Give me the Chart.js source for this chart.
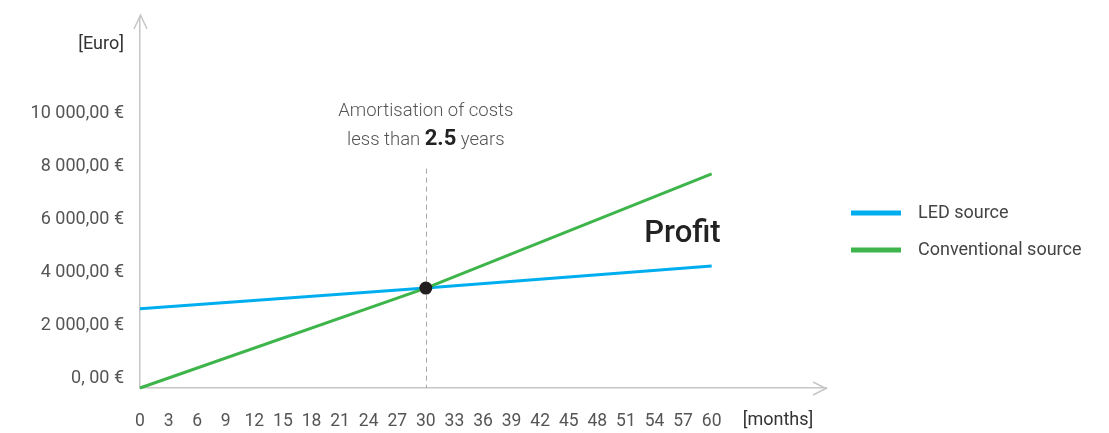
<!DOCTYPE html>
<html>
<head>
<meta charset="utf-8">
<script src="https://cdn.jsdelivr.net/npm/chart.js@4/dist/chart.umd.min.js"></script>
<style>
  html, body { margin: 0; padding: 0; background: #ffffff; }
  #wrap { width: 1109px; height: 433px; }
</style>
</head>
<body>
<div id="wrap"><canvas id="c" width="1109" height="433"></canvas></div>
<script>
// Cumulative cost (EUR) over time (months) for both light sources
const months = [0, 30, 60];
const ledCost = [3000, 3780, 4620];
const conventionalCost = [0, 3780, 8100];
const seriesNames = ['LED source', 'Conventional source'];

// Break-even point
const breakEvenMonth = 30;
const breakEvenCost = 3780;

// Axis ticks
const monthTicks = [0, 3, 6, 9, 12, 15, 18, 21, 24, 27, 30, 33, 36, 39, 42, 45, 48, 51, 54, 57, 60];
const euroTicks = [0, 2000, 4000, 6000, 8000, 10000];
const euroTickLabels = ['0, 00 €', '2 000,00 €', '4 000,00 €', '6 000,00 €', '8 000,00 €', '10 000,00 €'];

const BLUE = '#00aeef';
const GREEN = '#3db54a';
const AXIS = '#c6c6c6';
const FONT = 'Roboto, "Noto Sans", sans-serif';

function points(xs, ys) { return xs.map((x, i) => ({ x: x, y: ys[i] })); }

const decor = {
  id: 'decor',
  beforeDatasetsDraw(chart) {
    const ctx = chart.ctx;
    const xs = chart.scales.x, ys = chart.scales.y;
    const x = Math.round(xs.getPixelForValue(breakEvenMonth)) + 0.5;
    ctx.save();
    ctx.strokeStyle = '#a8a8a8';
    ctx.lineWidth = 1;
    ctx.setLineDash([5, 4]);
    ctx.beginPath();
    ctx.moveTo(x, ys.getPixelForValue(8300));
    ctx.lineTo(x, ys.getPixelForValue(0));
    ctx.stroke();
    ctx.restore();
  },
  afterDraw(chart) {
    const ctx = chart.ctx;
    const area = chart.chartArea;
    const xs = chart.scales.x;
    ctx.save();

    // axis arrow heads
    ctx.strokeStyle = AXIS;
    ctx.lineWidth = 1.5;
    const ax = area.left + 0.5, topY = area.top - 3;
    ctx.beginPath();
    ctx.moveTo(ax, area.top);
    ctx.lineTo(ax, topY);
    ctx.moveTo(ax - 6.5, topY + 14);
    ctx.lineTo(ax, topY);
    ctx.lineTo(ax + 6.5, topY + 14);
    const by = area.bottom + 0.5, rx = area.right;
    ctx.moveTo(rx - 13, by - 6.5);
    ctx.lineTo(rx, by);
    ctx.lineTo(rx - 13, by + 6.5);
    ctx.stroke();

    // axis unit labels
    ctx.fillStyle = '#333333';
    ctx.font = '18px ' + FONT;
    ctx.textBaseline = 'middle';
    ctx.textAlign = 'right';
    ctx.fillText('[Euro]', area.left - 16, 44);
    ctx.textAlign = 'left';
    ctx.fillText('[months]', xs.getPixelForValue(60) + 31, 420);

    // break-even annotation
    const cx = xs.getPixelForValue(breakEvenMonth);
    ctx.fillStyle = '#555555';
    ctx.font = '300 18.5px ' + FONT;
    ctx.textAlign = 'center';
    ctx.fillText('Amortisation of costs', cx, 111);
    const partA = 'less than ', partB = '2.5', partC = ' years';
    const fLight = '300 18.5px ' + FONT, fBold = 'bold 22px ' + FONT;
    ctx.font = fLight;
    const wA = ctx.measureText(partA).width, wC = ctx.measureText(partC).width;
    ctx.font = fBold;
    const wB = ctx.measureText(partB).width;
    const sx = cx - (wA + wB + wC) / 2;
    ctx.textAlign = 'left';
    ctx.textBaseline = 'alphabetic';
    ctx.font = fLight; ctx.fillStyle = '#555555';
    ctx.fillText(partA, sx, 145);
    ctx.font = fBold; ctx.fillStyle = '#222222';
    ctx.fillText(partB, sx + wA, 145);
    ctx.font = fLight; ctx.fillStyle = '#555555';
    ctx.fillText(partC, sx + wA + wB, 145);

    // profit region label
    ctx.font = '500 31px ' + FONT;
    ctx.fillStyle = '#222222';
    ctx.textAlign = 'right';
    ctx.fillText('Profit', xs.getPixelForValue(60) + 9, 242);

    // legend
    ctx.font = '18px ' + FONT;
    ctx.textAlign = 'left';
    ctx.textBaseline = 'middle';
    const legendY = [213, 250];
    chart.data.datasets.slice(0, 2).forEach((ds, i) => {
      ctx.fillStyle = ds.borderColor;
      ctx.fillRect(851, legendY[i] - 2.5, 50, 5);
      ctx.fillStyle = '#444444';
      ctx.fillText(ds.label, 918, legendY[i]);
    });
    ctx.restore();
  }
};

new Chart(document.getElementById('c'), {
  type: 'line',
  data: {
    datasets: [
      {
        label: seriesNames[0],
        data: points(months, ledCost),
        borderColor: BLUE,
        backgroundColor: BLUE,
        borderWidth: 3,
        pointRadius: 0,
        tension: 0,
        clip: false,
        order: 2
      },
      {
        label: seriesNames[1],
        data: points(months, conventionalCost),
        borderColor: GREEN,
        backgroundColor: GREEN,
        borderWidth: 3,
        pointRadius: 0,
        tension: 0,
        clip: false,
        order: 1
      },
      {
        label: 'Break-even',
        data: [{ x: breakEvenMonth, y: breakEvenCost }],
        showLine: false,
        pointRadius: 6.5,
        pointBackgroundColor: '#231f20',
        pointBorderWidth: 0,
        clip: false,
        order: 0
      }
    ]
  },
  options: {
    responsive: false,
    animation: false,
    devicePixelRatio: 1,
    layout: { padding: { top: 18, right: 283, bottom: 0, left: 0 } },
    plugins: { legend: { display: false }, tooltip: { enabled: false } },
    scales: {
      x: {
        type: 'linear',
        min: 0,
        max: 72,
        afterBuildTicks(s) { s.ticks = monthTicks.map(v => ({ value: v })); },
        afterFit(s) { s.height = 45; s.paddingLeft = 0; s.paddingRight = 0; },
        grid: { display: false, drawTicks: false },
        border: { display: true, color: AXIS, width: 1.5 },
        ticks: {
          autoSkip: false,
          maxRotation: 0,
          padding: 23,
          color: '#555555',
          font: { family: FONT, size: 17.5 }
        }
      },
      y: {
        type: 'linear',
        min: 0,
        max: 14000,
        afterBuildTicks(s) { s.ticks = euroTicks.map(v => ({ value: v })); },
        afterFit(s) { s.width = 140; s.paddingTop = 0; s.paddingBottom = 0; },
        grid: { display: false, drawTicks: false },
        border: { display: true, color: AXIS, width: 1.5 },
        ticks: {
          padding: 16,
          labelOffset: -10,
          color: '#555555',
          font: { family: FONT, size: 18 },
          callback(value) {
            const i = euroTicks.indexOf(value);
            return i >= 0 ? euroTickLabels[i] : '';
          }
        }
      }
    }
  },
  plugins: [decor]
});
</script>
</body>
</html>
